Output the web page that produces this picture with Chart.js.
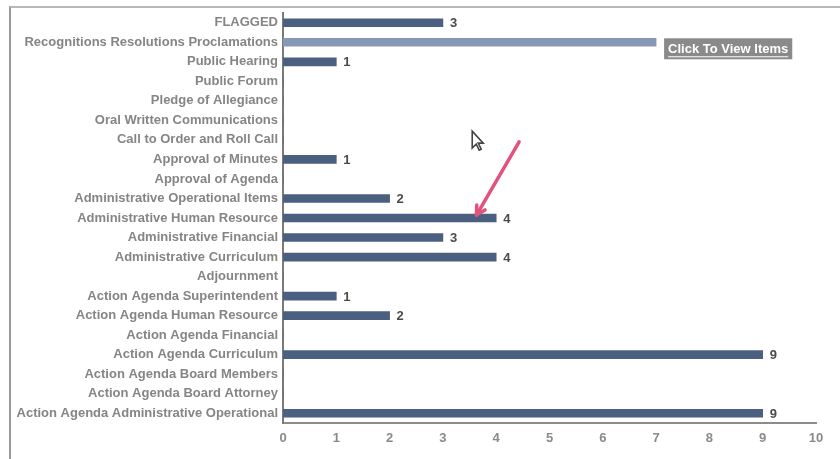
<!DOCTYPE html>
<html>
<head>
<meta charset="utf-8">
<title>Agenda Items</title>
<script src="https://cdn.jsdelivr.net/npm/chart.js@4.4.0/dist/chart.umd.min.js"></script>
<style>
  html, body { margin: 0; padding: 0; background: #fff; }
  #frame {
    position: absolute; left: 9px; top: 6px; width: 831px; height: 453px;
    border-top: 2px solid #b8b8b8; border-left: 2px solid #9a9a9a;
    box-sizing: border-box;
  }
  #wrap { position: absolute; left: 0; top: 0; width: 840px; height: 459px; }
</style>
</head>
<body>
<div id="frame"></div>
<div id="wrap"><canvas id="grafico"></canvas></div>
<script>
// categorias do eixo vertical (de cima para baixo)
const categorias = [
  "FLAGGED",
  "Recognitions Resolutions Proclamations",
  "Public Hearing",
  "Public Forum",
  "Pledge of Allegiance",
  "Oral Written Communications",
  "Call to Order and Roll Call",
  "Approval of Minutes",
  "Approval of Agenda",
  "Administrative Operational Items",
  "Administrative Human Resource",
  "Administrative Financial",
  "Administrative Curriculum",
  "Adjournment",
  "Action Agenda Superintendent",
  "Action Agenda Human Resource",
  "Action Agenda Financial",
  "Action Agenda Curriculum",
  "Action Agenda Board Members",
  "Action Agenda Board Attorney",
  "Action Agenda Administrative Operational"
];

// quantidade de itens por categoria
const valores = [3, 7, 1, 0, 0, 0, 0, 1, 0, 2, 4, 3, 4, 0, 1, 2, 0, 9, 0, 0, 9];

// marcas do eixo horizontal
const ticksX = [0, 1, 2, 3, 4, 5, 6, 7, 8, 9, 10];

const fonte = "'Liberation Sans', Arial, sans-serif";

// cor das barras (a segunda está realçada pelo cursor)
const cores = valores.map((v, i) => i === 1 ? "#8599b6" : "#4b5f80");

// rótulos de valor ao fim de cada barra
const rotulos = {
  id: "rotulos",
  afterDatasetsDraw(chart) {
    const ctx = chart.ctx;
    const meta = chart.getDatasetMeta(0);
    ctx.save();
    ctx.font = "bold 13px " + fonte;
    ctx.textBaseline = "middle";
    ctx.fillStyle = "#4a4a4a";
    meta.data.forEach((bar, i) => {
      if (valores[i] === 0 || i === 1) return;
      ctx.fillText(String(valores[i]), bar.x + 7, bar.y + 1);
    });
    ctx.restore();
  }
};

// dica "Click To View Items", cursor e seta rosa
const anotacoes = {
  id: "anotacoes",
  afterDraw(chart) {
    const ctx = chart.ctx;
    const x = chart.scales.x, y = chart.scales.y;

    // dica junto à barra destacada
    const bx = x.getPixelForValue(valores[1]) + 8;
    const by = y.getPixelForValue(1) + 7;
    ctx.save();
    ctx.font = "bold 13px " + fonte;
    const w = ctx.measureText("Click To View Items").width + 8;
    ctx.fillStyle = "#8a8a8a";
    ctx.fillRect(bx, by - 11, w, 21);
    ctx.fillStyle = "#ffffff";
    ctx.textBaseline = "middle";
    ctx.fillText("Click To View Items", bx + 4, by);
    ctx.fillRect(bx + 4, by + 7, w - 8, 1);

    // cursor do mouse
    const cx = x.getPixelForValue(3.55), cy = y.getPixelForValue(5.55);
    ctx.beginPath();
    ctx.moveTo(cx, cy);
    ctx.lineTo(cx, cy + 17);
    ctx.lineTo(cx + 4, cy + 13);
    ctx.lineTo(cx + 7, cy + 19);
    ctx.lineTo(cx + 9, cy + 18);
    ctx.lineTo(cx + 6, cy + 12);
    ctx.lineTo(cx + 11, cy + 12);
    ctx.closePath();
    ctx.fillStyle = "#ffffff";
    ctx.fill();
    ctx.strokeStyle = "#444";
    ctx.lineWidth = 1.6;
    ctx.stroke();

    // seta rosa apontando para a barra de recursos humanos
    const x0 = x.getPixelForValue(4.43), y0 = y.getPixelForValue(6.1);
    const x1 = x.getPixelForValue(3.63), y1 = y.getPixelForValue(9.85);
    ctx.strokeStyle = "#e2527c";
    ctx.lineWidth = 3.5;
    ctx.lineCap = "round";
    ctx.beginPath();
    ctx.moveTo(x0, y0);
    ctx.lineTo(x1, y1);
    ctx.stroke();
    const ang = Math.atan2(y1 - y0, x1 - x0);
    ctx.beginPath();
    ctx.moveTo(x1, y1);
    ctx.lineTo(x1 - 10 * Math.cos(ang - 0.5), y1 - 10 * Math.sin(ang - 0.5));
    ctx.moveTo(x1, y1);
    ctx.lineTo(x1 - 10 * Math.cos(ang + 0.5), y1 - 10 * Math.sin(ang + 0.5));
    ctx.stroke();
    ctx.restore();
  }
};

document.addEventListener("DOMContentLoaded", function () {
  const contexto = document.getElementById("grafico").getContext("2d");
  new Chart(contexto, {
    type: "bar",
    data: {
      labels: categorias,
      datasets: [{
        data: valores,
        backgroundColor: cores,
        barThickness: 8,
        borderWidth: 0
      }]
    },
    options: {
      indexAxis: "y",
      responsive: true,
      maintainAspectRatio: false,
      animation: false,
      layout: { padding: { top: 13, right: 24, bottom: 0, left: 0 } },
      plugins: {
        legend: { display: false },
        tooltip: { enabled: false }
      },
      scales: {
        x: {
          min: 0,
          max: 10,
          afterBuildTicks(axis) { axis.ticks = ticksX.map(v => ({ value: v })); },
          afterFit(axis) { axis.height = 36; },
          grid: { display: false, drawTicks: false },
          border: { display: true, color: "#8c8c8c", width: 2 },
          ticks: {
            padding: 8,
            color: "#8a8a8a",
            font: { family: fonte, size: 13, weight: "bold" }
          }
        },
        y: {
          afterFit(axis) { axis.width = 283; },
          grid: { display: false, drawTicks: false },
          border: { display: true, color: "#7a7a7a", width: 2 },
          ticks: {
            padding: 5,
            color: "#858585",
            autoSkip: false,
            font: { family: fonte, size: 13, weight: "bold" }
          }
        }
      }
    },
    plugins: [rotulos, anotacoes]
  });
});
</script>
</body>
</html>
